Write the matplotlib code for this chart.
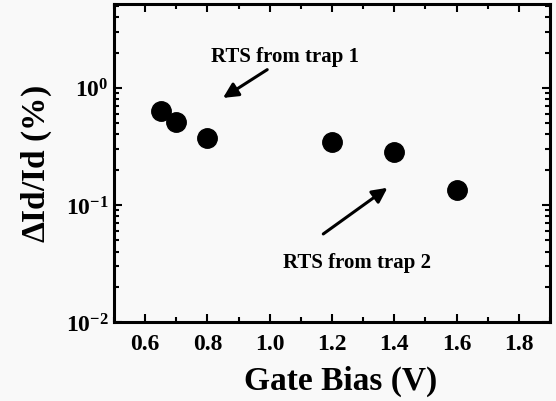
import numpy as np
import matplotlib
matplotlib.use('Agg')
import matplotlib.pyplot as plt
from matplotlib.ticker import FixedLocator, FixedFormatter, LogLocator, MultipleLocator

# data
gate_bias = [0.65, 0.70, 0.80, 1.20, 1.40, 1.60]
delta_id = [0.636, 0.51, 0.374, 0.345, 0.284, 0.134]

x_ticks = [0.6, 0.8, 1.0, 1.2, 1.4, 1.6, 1.8]
x_labels = ['0.6', '0.8', '1.0', '1.2', '1.4', '1.6', '1.8']
y_ticks = [1e-2, 1e-1, 1e0]
y_labels = [r'$\mathbf{10^{-2}}$', r'$\mathbf{10^{-1}}$', r'$\mathbf{10^{0}}$']

plt.rcParams['font.family'] = ['Liberation Serif', 'DejaVu Serif']
plt.rcParams['font.weight'] = 'bold'
plt.rcParams['mathtext.fontset'] = 'custom'
plt.rcParams['mathtext.bf'] = 'Liberation Serif:bold'
plt.rcParams['mathtext.rm'] = 'Liberation Serif:bold'

bg = '#f9f9f9'
fig = plt.figure(figsize=(5.56, 4.02), dpi=100, facecolor=bg)
ax = fig.add_axes([114 / 556, 1 - 323 / 402, (550 - 114) / 556, (323 - 5) / 402])
ax.set_facecolor(bg)

ax.plot(gate_bias, delta_id, 'o', color='black', markersize=14, linestyle='none')

ax.set_yscale('log')
ax.set_xlim(0.5, 1.9)
ax.set_ylim(1e-2, 5.2)

ax.xaxis.set_major_locator(FixedLocator(x_ticks))
ax.xaxis.set_major_formatter(FixedFormatter(x_labels))
ax.xaxis.set_minor_locator(MultipleLocator(0.1))
ax.yaxis.set_major_locator(FixedLocator(y_ticks))
ax.yaxis.set_major_formatter(FixedFormatter(y_labels))
ax.yaxis.set_minor_locator(LogLocator(base=10, subs=np.arange(2, 10), numticks=20))

ax.tick_params(which='both', direction='in', top=True, right=True, width=1.5)
ax.tick_params(which='major', length=6, labelsize=17)
ax.tick_params(axis='x', which='major', pad=8)
ax.tick_params(axis='y', which='major', pad=4)
ax.tick_params(which='minor', length=3.5)
for sp in ax.spines.values():
    sp.set_linewidth(2.2)

ax.set_xlabel('Gate Bias (V)', fontsize=24, fontweight='bold', labelpad=4)
ax.xaxis.set_label_coords(0.52, -0.135)
ax.set_ylabel(r'$\mathbf{\Delta}$Id/Id (%)', fontsize=24, fontweight='bold', labelpad=8)

arrow = dict(arrowstyle='-|>,head_length=0.9,head_width=0.45', color='black', lw=2.2,
             shrinkA=0, shrinkB=0)
ax.annotate('', xy=(0.85, 0.82), xytext=(0.992, 1.43), arrowprops=arrow)
ax.text(1.05, 1.88, 'RTS from trap 1', fontsize=15, fontweight='bold',
        ha='center', va='center')
ax.annotate('', xy=(1.378, 0.14), xytext=(1.172, 0.0565), arrowprops=arrow)
ax.text(1.28, 0.0326, 'RTS from trap 2', fontsize=15, fontweight='bold',
        ha='center', va='center')

fig.savefig('out.png', dpi=100, facecolor=bg)
